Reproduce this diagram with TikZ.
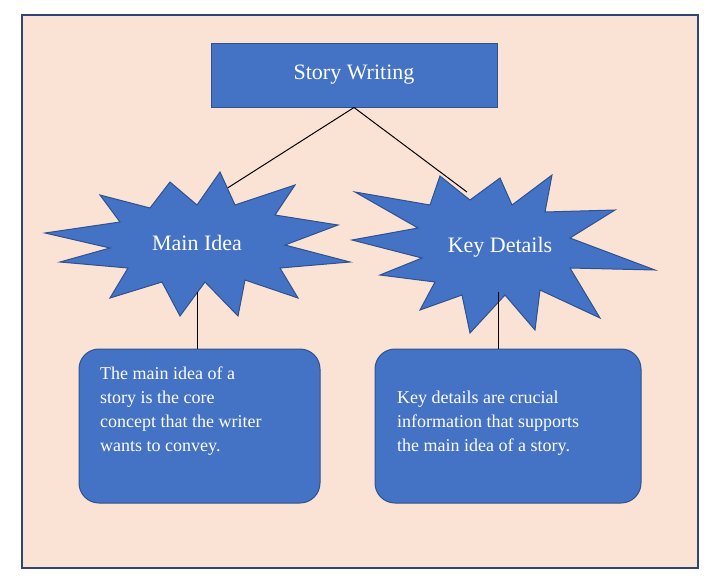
\documentclass[tikz,border=0pt]{standalone}
\usepackage{fontspec}
\setmainfont{Liberation Serif}
\definecolor{bg}{RGB}{250,227,213}
\definecolor{frame}{RGB}{47,68,120}
\definecolor{boxb}{RGB}{68,114,196}
\definecolor{boxe}{RGB}{47,82,143}
\begin{document}
\begin{tikzpicture}[x=1pt,y=-1pt,
  blue/.style={fill=boxb,draw=boxe,line width=1pt},
  txt/.style={text=white,font=\fontsize{18}{24}\selectfont,align=left,anchor=north west,inner sep=0pt},
  con/.style={draw=black,line width=1pt}]
\useasboundingbox (0,0) rectangle (717,587);
\draw[fill=bg,draw=frame,line width=1.2pt] (22,15) rectangle (698,568);
\node[blue,minimum width=286pt,minimum height=64pt,text=white,font=\fontsize{22}{26}\selectfont] (title) at (354,75) {Story Writing};
% starbursts
\coordinate (L) at (197,243);
\coordinate (R) at (500,247);
\coordinate (Ltop) at (193,210);
\coordinate (Rtop) at (467,192);
\coordinate (Lbot) at (197,292);
\coordinate (Rbot) at (498,292);
\draw[con] (title.south) -- (Ltop);
\draw[con] (title.south) -- (Rtop);
\draw[blue] (45,233) -- (120,222) -- (100,195) -- (150,208) -- (170,182) -- (197,205) -- (220,172) -- (235,205) -- (295,185) -- (275,215) -- (338,225) -- (285,245) -- (350,262) -- (280,268) -- (298,298) -- (245,280) -- (238,316) -- (205,282) -- (180,316) -- (162,282) -- (110,298) -- (128,268) -- (60,262) -- (110,248) -- cycle;
\draw[blue] (352,240) -- (418,228) -- (355,192) -- (430,205) -- (440,176) -- (470,200) -- (500,178) -- (512,205) -- (552,175) -- (545,212) -- (615,210) -- (570,238) -- (655,270) -- (570,268) -- (600,318) -- (540,290) -- (535,330) -- (505,295) -- (470,333) -- (462,295) -- (420,310) -- (435,282) -- (380,275) -- (422,258) -- cycle;
\node[text=white,font=\fontsize{22}{26}\selectfont] (li) at (L) {Main Idea};
\node[text=white,font=\fontsize{22}{26}\selectfont] (ri) at (R) {Key Details};
\draw[blue,rounded corners=20pt] (79,349) rectangle (320,503);
\draw[blue,rounded corners=20pt] (375,349) rectangle (641,503);
\coordinate (lb) at (197,349);
\coordinate (rb) at (498,349);
\draw[con] (Lbot) -- (lb);
\draw[con] (Rbot) -- (rb);
\node[txt] (lt) at (100,367) {The main idea of a\\story is the core\\concept that the writer\\wants to convey.};
\node[txt] (rt) at (397,391) {Key details are crucial\\information that supports\\the main idea of a story.};
\end{tikzpicture}
\end{document}
